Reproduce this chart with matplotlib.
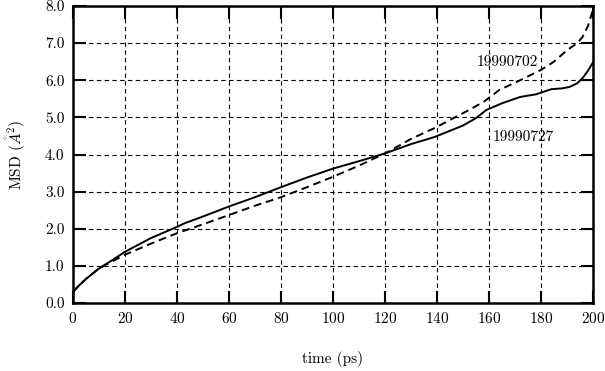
import numpy as np
import matplotlib

matplotlib.use("Agg")
import matplotlib.pyplot as plt

plt.rcParams["font.family"] = "serif"
plt.rcParams["font.serif"] = ["cmr10", "DejaVu Serif"]
plt.rcParams["mathtext.fontset"] = "cm"
plt.rcParams["axes.unicode_minus"] = False
plt.rcParams["axes.formatter.use_mathtext"] = True

# ---------- data ----------
t_0727 = [0, 2, 5, 10, 15, 20, 30, 40, 43, 50, 60, 70, 80, 90, 100, 110, 120,
          126, 130, 139, 150, 155, 159, 165, 172, 178, 184, 188, 191, 194, 196, 198, 200]
msd_0727 = [0.30, 0.45, 0.65, 0.93, 1.15, 1.38, 1.75, 2.05, 2.15, 2.33, 2.60, 2.85, 3.12, 3.38,
            3.62, 3.82, 4.03, 4.18, 4.28, 4.47, 4.78, 4.98, 5.20, 5.38, 5.55, 5.62, 5.76, 5.78,
            5.82, 5.92, 6.06, 6.25, 6.48]

t_0702 = [0, 2, 5, 10, 15, 20, 30, 40, 50, 60, 70, 80, 90, 100, 110, 120, 126, 130,
          139, 151, 158, 164, 172, 180, 185, 190, 194, 196, 198, 200]
msd_0702 = [0.30, 0.45, 0.65, 0.93, 1.12, 1.30, 1.60, 1.88, 2.12, 2.37, 2.62, 2.85, 3.12, 3.40,
            3.70, 4.03, 4.26, 4.42, 4.71, 5.15, 5.42, 5.74, 6.00, 6.28, 6.50, 6.81, 7.00,
            7.17, 7.45, 7.90]

label_0702 = "19990702"
label_0727 = "19990727"

fig = plt.figure(figsize=(6.05, 3.71), dpi=100)
ax = fig.add_axes([73 / 605, 1 - 303 / 371, 520 / 605, 297 / 371])

ax.plot(t_0727, msd_0727, color="k", lw=1.4, ls="-")
ax.plot(t_0702, msd_0702, color="k", lw=1.4, ls=(0, (4, 2.5)))

ax.text(167, 6.49, label_0702, ha="center", va="center", fontsize=11)
ax.text(173, 4.47, label_0727, ha="center", va="center", fontsize=11)

ax.set_xlim(0, 200)
ax.set_ylim(0, 8)
ax.set_xticks(np.arange(0, 201, 20))
ax.set_yticks(np.arange(0, 8.1, 1.0))
ax.set_yticklabels([f"{v:.1f}" for v in np.arange(0, 8.1, 1.0)])
ax.grid(True, color="k", ls=(0, (4, 3)), lw=0.8)
ax.tick_params(direction="in", length=9, width=1.5, top=True, right=True,
               labelsize=11, pad=6)
for s in ax.spines.values():
    s.set_linewidth(1.8)

ax.set_xlabel("time (ps)", fontsize=11, labelpad=18)
ax.set_ylabel(r"MSD ($\mathring{A}^2$)", fontsize=11, labelpad=12)

fig.savefig("out.png", dpi=100)
